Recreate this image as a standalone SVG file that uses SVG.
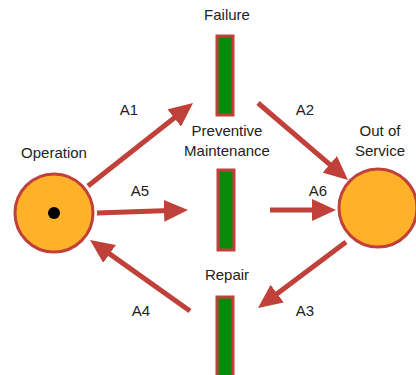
<svg xmlns="http://www.w3.org/2000/svg" width="416" height="375" viewBox="0 0 416 375">
<defs>
<style>
text{font-family:"Liberation Sans",Arial,sans-serif;font-size:15px;fill:#222;text-anchor:middle}
.state{fill:#ffb12a;stroke:#c0403a;stroke-width:3}
.bar{fill:#0a8a0a;stroke:#c0403a;stroke-width:3}
.arc{stroke:#c0403a;stroke-width:5;fill:none;marker-end:url(#ah)}
</style>
<marker id="ah" viewBox="0 0 24 22" refX="6" refY="11" markerWidth="24" markerHeight="22" markerUnits="userSpaceOnUse" orient="auto">
<path d="M0,0 L24,11 L0,22 z" fill="#c0403a"/>
</marker>
</defs>
<g id="connectors">
<line class="arc" x1="88" y1="186" x2="178.9" y2="114.2"/>
<line class="arc" x1="258" y1="103" x2="334.3" y2="168.3"/>
<line class="arc" x1="97" y1="213" x2="170" y2="210.6"/>
<line class="arc" x1="270" y1="210" x2="318" y2="210"/>
<line class="arc" x1="346" y1="242" x2="272.4" y2="297.2"/>
<line class="arc" x1="190" y1="311" x2="104.7" y2="250.4"/>
<text x="129" y="115">A1</text>
<text x="305" y="115">A2</text>
<text x="140" y="196">A5</text>
<text x="318" y="196">A6</text>
<text x="305" y="316">A3</text>
<text x="141" y="316">A4</text>
</g>
<g id="operation">
<circle class="state" cx="54" cy="213" r="39"/>
<circle cx="54" cy="213" r="6" fill="#000"/>
<text x="54" y="158">Operation</text>
</g>
<g id="out-of-service">
<circle class="state" cx="378" cy="208" r="39"/>
<text x="380" y="136">Out of</text>
<text x="380" y="156">Service</text>
</g>
<g id="failure">
<rect class="bar" x="217" y="36" width="16" height="79"/>
<text x="227" y="20">Failure</text>
</g>
<g id="preventive-maintenance">
<rect class="bar" x="218" y="170" width="16" height="80"/>
<text x="227" y="136">Preventive</text>
<text x="227" y="156">Maintenance</text>
</g>
<g id="repair">
<rect class="bar" x="217" y="297" width="16" height="82"/>
<text x="227" y="280">Repair</text>
</g>
</svg>
